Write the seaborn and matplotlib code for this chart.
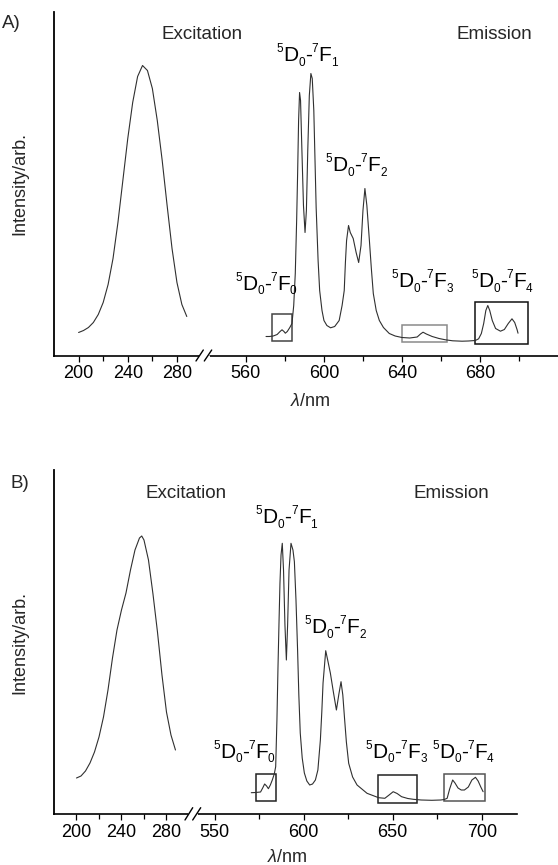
import matplotlib
matplotlib.use('Agg')
import matplotlib.pyplot as plt
import seaborn as sns
from matplotlib.lines import Line2D
from matplotlib.patches import Rectangle

# ---------------- data ----------------
# Panel A excitation
exA_nm = [200, 204, 208, 212, 216, 220, 224, 228, 232, 236, 240, 244, 248,
          252, 256, 260, 264, 268, 272, 276, 280, 284, 288]
exA_I = [23, 25, 28, 33, 41, 53, 71, 97, 133, 175, 217, 253, 279,
         290, 285, 267, 235, 195, 150, 107, 73, 51, 39]

# Panel A emission
emA_nm = [570.3, 572, 574, 576, 577.5, 578.5, 579.5, 580.2, 581.2, 582.5, 583.6,
          584.5, 585.3, 586, 586.5, 587, 587.5, 588, 588.7, 589.5, 590.3, 591,
          591.7, 592.5, 593.3, 594, 594.8, 596, 597, 597.8, 599, 600, 601.5,
          603.4, 605.5, 607.8, 609.3, 610.4, 611, 611.6, 612.6, 613.5, 615,
          616.5, 617.8, 619, 620, 621, 622, 623.3, 624.3, 625.3, 626.8, 628.4,
          630.5, 633.5, 636.5, 640, 644, 647.8, 649.5, 650.8, 652.5, 655.5,
          659, 662.3, 666, 670.8, 674, 677.6, 679.3, 680.7, 681.9, 683, 684,
          685, 686.3, 688, 690.5, 692.5, 694.5, 696.4, 697.8, 699, 699.5]
emA_I = [19, 19, 19.5, 21, 24, 25.7, 24, 22.3, 24, 28, 32,
         50, 82, 135, 182, 235, 263, 255, 205, 150, 123, 145,
         205, 260, 282, 277, 245, 148, 95, 65, 45, 35, 30,
         27.7, 29, 35, 50, 65, 93, 115, 130, 123, 117,
         103, 93, 110, 145, 167, 150, 115, 87, 62, 45, 35,
         28, 22, 19.5, 18, 17.5, 18.5, 21.5, 23.3, 21.5, 19,
         17, 15.7, 14.7, 14.3, 14.5, 15, 16.7, 22, 32, 45, 50,
         45, 35, 27, 24.3, 26, 32, 36.7, 33, 26, 22.3]

# Panel B excitation
exB_nm = [200, 204, 208, 212, 216, 220, 224, 228, 232, 236, 240, 244, 248,
          252, 256, 258, 260, 264, 268, 272, 276, 280, 284, 288]
exB_I = [36, 38, 43, 51, 62, 77, 97, 124, 156, 184, 204, 221, 244,
         264, 276, 278, 274, 254, 220, 182, 139, 102, 79, 64]

# Panel B emission
emB_nm = [570.6, 573, 575.8, 577, 578.1, 579.2, 580.2, 581.3, 582.4, 583.5,
          584.3, 585, 585.6, 586.2, 586.7, 587.3, 588, 588.7, 589.5, 590.3,
          591, 591.8, 592.9, 594, 594.8, 595.7, 596.6, 597.3, 598.1, 599.2,
          600.4, 601.8, 603.4, 605, 606.6, 608, 609.4, 610.2, 610.9, 612.4,
          613.5, 615, 616.7, 618.4, 619.8, 621, 622, 622.9, 624, 625.3, 627.5,
          630, 635.6, 642.1, 645.6, 648, 650.3, 652.5, 655, 658.5, 661.6, 666,
          672, 677, 679, 680.6, 682, 683.7, 685, 686.7, 688.5, 690.3, 692.5,
          694.5, 696.5, 698, 699.5, 700.8]
emB_I = [21.3, 21.5, 22, 26, 30, 28, 25.3, 29, 34, 40,
         47.3, 94, 147.3, 194, 230.7, 259, 270.7, 244, 189, 154,
         189, 244, 270.7, 264, 252.3, 214, 164, 119, 81, 56,
         41, 33, 29, 30, 34, 44, 74, 102, 131, 163.3,
         154, 141, 122, 104, 120, 132.3, 119, 97.3, 72, 50.7, 37,
         29, 20.7, 16.3, 15.7, 19, 22.3, 20.5, 17.3, 15.5, 14.7, 14,
         13.7, 14, 14.5, 15.7, 25, 34, 31, 26, 24, 24, 27,
         34, 36.7, 33, 27, 22.3]

# Highlight boxes: (nm_min, nm_max, I_min, I_max)
boxesA = [(573.3, 583.6, 15, 41.7), (639.8, 662.9, 13.3, 31), (677.6, 704.6, 11.7, 53.3)]
boxesB = [(573.4, 584.2, 13, 40), (641.8, 663.5, 11.3, 39), (679, 702, 13, 39.7)]
box_colorsA = ['#444444', '#8a8a8a', '#111111']
box_colorsB = ['#222222', '#222222', '#555555']

# Ticks
exA_major = [200, 240, 280]; exA_minor = [220, 260]
emA_major = [560, 600, 640, 680]; emA_minor = [580, 620, 660, 700]
exB_major = [200, 240, 280]; exB_minor = [220, 260]
emB_major = [550, 600, 650, 700]; emB_minor = [575, 625, 675]

# Transition labels 5D0-7FJ
trans_J = ['0', '1', '2', '3', '4']

# ---------------- styling ----------------
sns.set_theme(style='ticks')
plt.rcParams['font.family'] = ['Liberation Sans', 'DejaVu Sans']
plt.rcParams['mathtext.fontset'] = 'custom'
plt.rcParams['mathtext.rm'] = 'Liberation Sans'
plt.rcParams['mathtext.it'] = 'Liberation Sans:italic'
plt.rcParams['mathtext.default'] = 'regular'

W, H = 558, 865
fig = plt.figure(figsize=(W / 100, H / 100), dpi=100)
fig.patch.set_facecolor('white')
renderer = fig.canvas.get_renderer()


def fx(px):
    return px / W


def fy(py):
    return 1 - py / H


LINE = '#303030'
BIG, SMALL = 15, 8.5


def compound_label(cx, base_y, J):
    pieces = [('5', 'sup'), ('D', 'b'), ('0', 'sub'), ('-', 'b'),
              ('7', 'sup'), ('F', 'b'), (J, 'sub')]
    items = []
    total = 0.0
    for s, kind in pieces:
        t = fig.text(0, 0, s, fontsize=BIG if kind == 'b' else SMALL,
                     ha='left', va='baseline', color='black')
        w = t.get_window_extent(renderer).width
        items.append((t, kind, w))
        total += w
    x = cx - total / 2
    for t, kind, w in items:
        dy = {'b': 0.0, 'sup': -9.0, 'sub': 4.5}[kind]
        t.set_position((fx(x), fy(base_y + dy)))
        x += w


def style(ax, ytop, major, minor, xlim, side):
    ax.set_facecolor('none')
    ax.set_xlim(*xlim)
    ax.set_ylim(0, ytop)
    ax.set_yticks([])
    ax.set_xticks(major)
    ax.set_xticks(minor, minor=True)
    ax.set_xticklabels([str(v) for v in major])
    ax.tick_params(axis='x', which='major', direction='out', length=4, width=0.9,
                   labelsize=13, pad=3, color='black', labelcolor='black')
    ax.tick_params(axis='x', which='minor', direction='out', length=3.5, width=0.9,
                   color='black')
    ax.spines['top'].set_visible(False)
    ax.spines['right'].set_visible(False)
    ax.spines['bottom'].set_linewidth(1.2)
    ax.spines['bottom'].set_color('black')
    if side == 'left':
        ax.spines['left'].set_linewidth(1.3)
        ax.spines['left'].set_color('black')
    else:
        ax.spines['left'].set_visible(False)
    ax.set_xlabel('')
    ax.set_ylabel('')


def panel(cfg):
    top, bottom = cfg['top'], cfg['bottom']
    l0, j, r0 = cfg['left'], cfg['junction'], cfg['right']
    h = (bottom - top) / H
    ax_ex = fig.add_axes([fx(l0), fy(bottom), (j - l0) / W, h])
    ax_em = fig.add_axes([fx(j), fy(bottom), (r0 - j) / W, h])
    sns.lineplot(x=cfg['ex_nm'], y=cfg['ex_I'], ax=ax_ex, color=LINE, linewidth=0.8,
                 sort=False, estimator=None)
    sns.lineplot(x=cfg['em_nm'], y=cfg['em_I'], ax=ax_em, color=LINE, linewidth=0.8,
                 sort=False, estimator=None)
    for (x0, x1, y0, y1), c in zip(cfg['boxes'], cfg['box_colors']):
        ax_em.add_patch(Rectangle((x0, y0), x1 - x0, y1 - y0, fill=False,
                                  edgecolor=c, linewidth=1.1))
    style(ax_ex, cfg['ytop'], cfg['ex_major'], cfg['ex_minor'], cfg['ex_xlim'], 'left')
    style(ax_em, cfg['ytop'], cfg['em_major'], cfg['em_minor'], cfg['em_xlim'], 'right')

    # break marks
    (ax1, ay1, ax2, ay2), (bx1, by1, bx2, by2) = cfg['slashes']
    gap = Line2D([fx((ax1 + ax2) / 2 + 0.5), fx((bx1 + bx2) / 2 - 0.5)],
                 [fy(bottom), fy(bottom)], color='white', linewidth=2.2)
    fig.add_artist(gap)
    for (x1, y1, x2, y2) in cfg['slashes']:
        fig.add_artist(Line2D([fx(x1), fx(x2)], [fy(y1), fy(y2)], color='black',
                              linewidth=1.0))

    # texts
    fig.text(fx(cfg['tag_x']), fy(cfg['tag_y']), cfg['tag'], ha='left', va='baseline',
             fontsize=13.5)
    fig.text(fx(cfg['exc_x']), fy(cfg['head_y']), 'Excitation', ha='center',
             va='baseline', fontsize=13.5)
    fig.text(fx(cfg['emi_x']), fy(cfg['head_y']), 'Emission', ha='center',
             va='baseline', fontsize=13.5)
    for J, (cx, by) in zip(trans_J, cfg['label_pos']):
        compound_label(cx, by, J)
    fig.text(fx(20), fy((top + bottom) / 2), 'Intensity/arb.', rotation=90,
             ha='center', va='center', fontsize=13)
    fig.text(fx(cfg['xl_x']), fy(cfg['xl_y']), r'$\mathit{\lambda}$/nm', ha='center',
             va='baseline', fontsize=13)


cfgA = dict(top=12, bottom=355.5, left=54, junction=204, right=558,
            ex_nm=exA_nm, ex_I=exA_I, em_nm=emA_nm, em_I=emA_I,
            boxes=boxesA, box_colors=box_colorsA, ytop=343.5,
            ex_major=exA_major, ex_minor=exA_minor, ex_xlim=(180, 302),
            em_major=emA_major, em_minor=emA_minor, em_xlim=(538.5, 720),
            slashes=[(196, 361, 203.3, 350), (204.3, 361, 211.7, 350)],
            tag='A)', tag_x=2, tag_y=28, exc_x=202, emi_x=494.6, head_y=39,
            label_pos=[(266, 290), (307, 61), (356, 171), (422, 287), (502, 287)],
            xl_x=310, xl_y=406)

cfgB = dict(top=470, bottom=814, left=54, junction=192, right=517.3,
            ex_nm=exB_nm, ex_I=exB_I, em_nm=emB_nm, em_I=emB_I,
            boxes=boxesB, box_colors=box_colorsB, ytop=344,
            ex_major=exB_major, ex_minor=exB_minor, ex_xlim=(180, 302.7),
            em_major=emB_major, em_minor=emB_minor, em_xlim=(537.3, 720),
            slashes=[(185, 820, 192.7, 807.7), (192.7, 820, 200.7, 807.7)],
            tag='B)', tag_x=10, tag_y=488, exc_x=185.7, emi_x=451, head_y=498,
            label_pos=[(244, 758), (286.5, 523), (335, 633), (396, 758), (463, 758)],
            xl_x=287, xl_y=862)

panel(cfgA)
panel(cfgB)

fig.savefig('out.png', dpi=100, facecolor='white')
